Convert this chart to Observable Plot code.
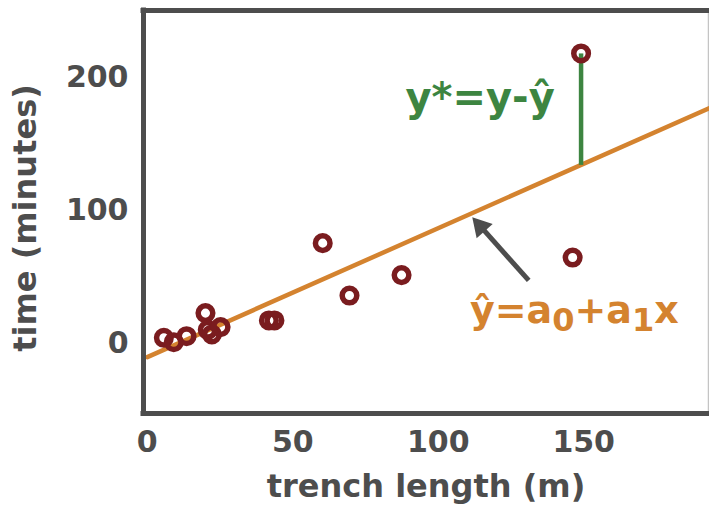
<!DOCTYPE html>
<html><head><meta charset="utf-8">
<script src="https://cdn.jsdelivr.net/npm/d3@7"></script>
<script src="https://cdn.jsdelivr.net/npm/@observablehq/plot@0.6"></script>
<style>body{margin:0;background:#fff}</style>
</head><body><div id="chart"></div>
<script>
// observations
const trenchLength = [5.7, 9.1, 13.5, 20.0, 20.8, 22.2, 25.2, 41.8, 43.7, 60.3, 69.5, 87.4, 146.2, 149.1];
const timeMinutes  = [4.5, 1.2, 5.7, 23.0, 10.5, 7.0, 12.5, 17.5, 17.5, 75.5, 36.2, 51.5, 64.7, 217.8];
// regression coefficients
const a0 = -10;
const a1 = 0.967;
// highlighted residual (index of observation)
const residualIndex = 13;
// axes
const xTicks = [0, 50, 100, 150];
const yTicks = [0, 100, 200];
const xDomain = [-1.3, 192.9];
const yDomain = [-52.3, 250];
const xTitle = "trench length (m)";
const yTitle = "time (minutes)";
// annotations
const residualLabel = "y*=y-ŷ";
const residualLabelPos = [114.4, 184.5];
const fitLabelPos = [146.8, 24.4];
const arrowFrom = [131.1, 47.5];
const arrowTo = [111.7, 95];

const W = 709, H = 505, mL = 143, mR = 1, mT = 10, mB = 92;
const xS = d3.scaleLinear(xDomain, [mL, W - mR]);
const yS = d3.scaleLinear(yDomain, [H - mB, mT]);

const points = trenchLength.map((x, i) => ({x, y: timeMinutes[i]}));
const fitLine = [0, xDomain[1]].map(x => ({x, y: a0 + a1 * x}));
const rx = trenchLength[residualIndex];
const residual = [{x: rx, y1: a0 + a1 * rx, y2: timeMinutes[residualIndex]}];

// arrow: shaft + filled triangular head
const headR = 8;
const tipOffset = 2 * Math.sqrt(Math.PI * headR * headR / (3 * Math.sqrt(3)));
const p0 = [xS(arrowFrom[0]), yS(arrowFrom[1])], p1 = [xS(arrowTo[0]), yS(arrowTo[1])];
const len = Math.hypot(p1[0] - p0[0], p1[1] - p0[1]);
const u = [(p1[0] - p0[0]) / len, (p1[1] - p0[1]) / len];
const c = [p1[0] - u[0] * tipOffset, p1[1] - u[1] * tipOffset];
const head = [{x: xS.invert(c[0]), y: yS.invert(c[1]), rot: Math.atan2(u[0], -u[1]) * 180 / Math.PI}];
const shaft = [{x1: arrowFrom[0], y1: arrowFrom[1], x2: head[0].x, y2: head[0].y}];

const gray = "#4d4d4d";
const orange = "#d4832f";
const green = "#3d8541";
const red = "#7a1c1f";

const chart = Plot.plot({
  width: W,
  height: H,
  marginLeft: mL,
  marginRight: mR,
  marginTop: mT,
  marginBottom: mB,
  x: {domain: xDomain},
  y: {domain: yDomain},
  style: {fontFamily: "DejaVu Sans", fontWeight: "bold", fontSize: "30px", color: gray, background: "white"},
  marks: [
    Plot.ruleX([xDomain[1]], {stroke: "#c4c4c4", strokeWidth: 1.5}),
    Plot.line(fitLine, {x: "x", y: "y", stroke: orange, strokeWidth: 4.5}),
    Plot.link(residual, {x1: "x", x2: "x", y1: "y1", y2: "y2", stroke: green, strokeWidth: 4.5}),
    Plot.dot(points, {x: "x", y: "y", r: 7.3, stroke: red, strokeWidth: 5.5, fill: "none"}),
    Plot.link(shaft, {x1: "x1", y1: "y1", x2: "x2", y2: "y2", stroke: gray, strokeWidth: 5}),
    Plot.dot(head, {x: "x", y: "y", rotate: "rot", symbol: "triangle", r: headR, fill: gray, stroke: "none"}),
    Plot.text([residualLabel], {x: residualLabelPos[0], y: residualLabelPos[1], text: d => d, fill: green, fontSize: 40, fontWeight: "bold", textAnchor: "middle"}),
    Plot.text(["FITLABEL"], {x: fitLabelPos[0], y: fitLabelPos[1], text: d => d, fill: orange, fontSize: 38, fontWeight: "bold", textAnchor: "middle"}),
    Plot.axisX(xTicks, {tickSize: 0, tickPadding: 17, label: null}),
    Plot.axisY(yTicks, {tickSize: 0, tickPadding: 15, label: null}),
    Plot.text([xTitle], {frameAnchor: "bottom", dy: 73, textAnchor: "middle", lineAnchor: "middle", text: d => d, fontSize: 32, fill: gray}),
    Plot.text([yTitle], {frameAnchor: "left", dx: -117.7, dy: 6, rotate: -90, textAnchor: "middle", lineAnchor: "middle", text: d => d, fontSize: 32, fill: gray}),
    Plot.ruleY([yDomain[1]], {stroke: gray, strokeWidth: 5, strokeLinecap: "square"}),
    Plot.ruleY([yDomain[0]], {stroke: gray, strokeWidth: 5, strokeLinecap: "square"}),
    Plot.ruleX([xDomain[0]], {stroke: gray, strokeWidth: 5, strokeLinecap: "square"})
  ]
});
document.getElementById("chart").appendChild(chart);

// build the fitted-line equation with subscripts
d3.select(chart).selectAll("text").filter(function() { return this.textContent === "FITLABEL"; })
  .each(function() {
    const t = d3.select(this);
    t.text(null);
    const parts = [["ŷ=a", 38, 0], ["0", 32, 8], ["+a", 38, -8], ["1", 32, 8], ["x", 38, -8]];
    parts.forEach(([s, fs, dy]) => t.append("tspan").attr("font-size", fs).attr("dy", dy).text(s));
  });
</script>
</body></html>
